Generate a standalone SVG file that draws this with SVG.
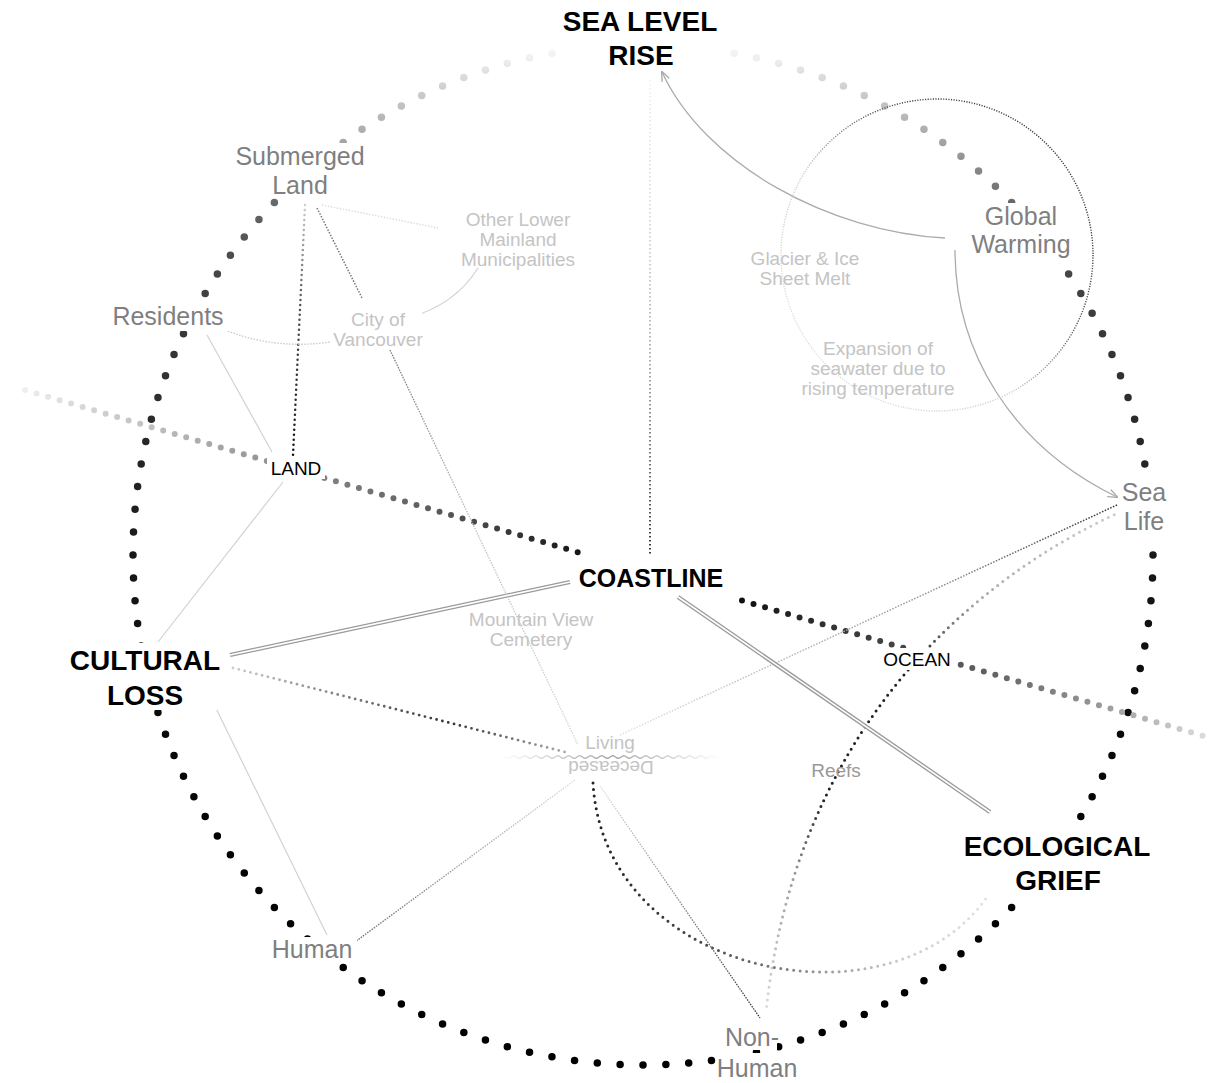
<svg xmlns="http://www.w3.org/2000/svg" width="1213" height="1083" viewBox="0 0 1213 1083">
<style>
text{font-family:"Liberation Sans",Arial,Helvetica,sans-serif;text-anchor:middle}
.big{font-size:28px;font-weight:bold;fill:#000}
.coast{font-size:25px;font-weight:bold;fill:#000}
.mid{font-size:25px;fill:#7f7f7f}
.light{font-size:19px;fill:#c4c4c4}
.tag{font-size:19px;fill:#000}
.reef{font-size:19px;fill:#999}
.bg{fill:#fff}
.solid{fill:none;stroke:#d2d2d2;stroke-width:1.2}
.dbl-o{fill:none;stroke:#999;stroke-width:4.2}
.dbl-i{fill:none;stroke:#fff;stroke-width:1.6}
.arrow{fill:none;stroke:#ababab;stroke-width:1.3}
</style>
<defs>
<marker id="arr" viewBox="0 0 10 10" refX="9" refY="5" markerWidth="10" markerHeight="10" markerUnits="userSpaceOnUse" orient="auto">
<path d="M0,1 L10,5 L0,9" fill="none" stroke="#aaa" stroke-width="1.3"/>
</marker>
<linearGradient id="ringGrad" gradientUnits="userSpaceOnUse" x1="0" y1="45" x2="0" y2="1065">
<stop offset="0" stop-color="#f8f8f8"/>
<stop offset="0.015" stop-color="#eeeeee"/>
<stop offset="0.029" stop-color="#dddddd"/>
<stop offset="0.046" stop-color="#cccccc"/>
<stop offset="0.067" stop-color="#bbbbbb"/>
<stop offset="0.091" stop-color="#a8a8a8"/>
<stop offset="0.152" stop-color="#6a6a6a"/>
<stop offset="0.21" stop-color="#4a4a4a"/>
<stop offset="0.28" stop-color="#383838"/>
<stop offset="0.40" stop-color="#262626"/>
<stop offset="0.54" stop-color="#141414"/>
<stop offset="0.74" stop-color="#050505"/>
<stop offset="1" stop-color="#000"/>
</linearGradient>
<linearGradient id="diagGrad" gradientUnits="userSpaceOnUse" x1="25" y1="0" x2="1213" y2="0">
<stop offset="0" stop-color="#eeeeee"/>
<stop offset="0.063" stop-color="#d0d0d0"/>
<stop offset="0.105" stop-color="#c0c0c0"/>
<stop offset="0.19" stop-color="#999"/>
<stop offset="0.274" stop-color="#7a7a7a"/>
<stop offset="0.358" stop-color="#555"/>
<stop offset="0.433" stop-color="#2a2a2a"/>
<stop offset="0.469" stop-color="#151515"/>
<stop offset="0.604" stop-color="#111"/>
<stop offset="0.678" stop-color="#333"/>
<stop offset="0.753" stop-color="#4a4a4a"/>
<stop offset="0.821" stop-color="#666"/>
<stop offset="0.905" stop-color="#999"/>
<stop offset="1" stop-color="#e0e0e0"/>
</linearGradient>
<linearGradient id="slrGrad" gradientUnits="userSpaceOnUse" x1="0" y1="80" x2="0" y2="556">
<stop offset="0" stop-color="#f0f0f0"/>
<stop offset="0.25" stop-color="#dddddd"/>
<stop offset="0.57" stop-color="#aaaaaa"/>
<stop offset="0.84" stop-color="#555"/>
<stop offset="1" stop-color="#222"/>
</linearGradient>
<linearGradient id="gwGrad" gradientUnits="userSpaceOnUse" x1="1060" y1="130" x2="800" y2="380">
<stop offset="0" stop-color="#333"/>
<stop offset="0.35" stop-color="#555"/>
<stop offset="0.6" stop-color="#cccccc"/>
<stop offset="1" stop-color="#e2e2e2"/>
</linearGradient>
<linearGradient id="seaLivGrad" gradientUnits="userSpaceOnUse" x1="1117" y1="0" x2="620" y2="0">
<stop offset="0" stop-color="#333"/>
<stop offset="0.4" stop-color="#999"/>
<stop offset="1" stop-color="#e2e2e2"/>
</linearGradient>
<linearGradient id="reefGrad" gradientUnits="userSpaceOnUse" x1="0" y1="512" x2="0" y2="1012">
<stop offset="0" stop-color="#cccccc"/>
<stop offset="0.18" stop-color="#aaaaaa"/>
<stop offset="0.3" stop-color="#222"/>
<stop offset="0.58" stop-color="#222"/>
<stop offset="0.72" stop-color="#999"/>
<stop offset="1" stop-color="#dddddd"/>
</linearGradient>
<linearGradient id="arcGrad" gradientUnits="userSpaceOnUse" x1="593" y1="0" x2="1003" y2="0">
<stop offset="0" stop-color="#222"/>
<stop offset="0.26" stop-color="#444"/>
<stop offset="0.5" stop-color="#888"/>
<stop offset="0.75" stop-color="#cccccc"/>
<stop offset="1" stop-color="#e6e6e6"/>
</linearGradient>
<linearGradient id="decNonGrad" gradientUnits="userSpaceOnUse" x1="0" y1="786" x2="0" y2="1018">
<stop offset="0" stop-color="#dddddd"/>
<stop offset="1" stop-color="#333"/>
</linearGradient>
<linearGradient id="decHumGrad" gradientUnits="userSpaceOnUse" x1="575" y1="0" x2="355" y2="0">
<stop offset="0" stop-color="#dddddd"/>
<stop offset="1" stop-color="#666"/>
</linearGradient>
<linearGradient id="culLivGrad" gradientUnits="userSpaceOnUse" x1="233" y1="0" x2="565" y2="0">
<stop offset="0" stop-color="#cccccc"/>
<stop offset="0.65" stop-color="#333"/>
<stop offset="1" stop-color="#aaaaaa"/>
</linearGradient>
<linearGradient id="subLandGrad" gradientUnits="userSpaceOnUse" x1="0" y1="205" x2="0" y2="455">
<stop offset="0" stop-color="#cccccc"/>
<stop offset="0.4" stop-color="#555"/>
<stop offset="1" stop-color="#111"/>
</linearGradient>
<linearGradient id="vanGrad" gradientUnits="userSpaceOnUse" x1="0" y1="350" x2="0" y2="745">
<stop offset="0" stop-color="#777"/>
<stop offset="0.4" stop-color="#bbbbbb"/>
<stop offset="1" stop-color="#d8d8d8"/>
</linearGradient>
<linearGradient id="waveGrad" gradientUnits="userSpaceOnUse" x1="500" y1="0" x2="722" y2="0">
<stop offset="0" stop-color="#fff"/>
<stop offset="0.27" stop-color="#cccccc"/>
<stop offset="0.5" stop-color="#a5a5a5"/>
<stop offset="0.73" stop-color="#cccccc"/>
<stop offset="1" stop-color="#fff"/>
</linearGradient>
</defs>
<rect width="1213" height="1083" fill="#fff"/>

<g id="ring">
<circle cx="643" cy="555" r="510" fill="none" stroke="url(#ringGrad)" stroke-width="7.5" stroke-linecap="round" stroke-dasharray="0 1" pathLength="140"/>
</g>

<g id="land-ocean-axis" fill="none" stroke="url(#diagGrad)" stroke-width="6" stroke-linecap="round" stroke-dasharray="0 12">
<line x1="25" y1="390" x2="582" y2="553.5"/>
<line x1="742" y1="600.5" x2="1213" y2="738.7"/>
</g>

<g id="connectors">
<line x1="650" y1="80" x2="650" y2="556" stroke="url(#slrGrad)" stroke-width="1.8" stroke-dasharray="1.5 2.5"/>
<path class="arrow" d="M945 238 C830 232 705 165 662 72" marker-end="url(#arr)"/>
<path class="arrow" d="M955 250 C955 350 1010 445 1117 497" marker-end="url(#arr)"/>
<circle cx="937" cy="255" r="156" fill="none" stroke="url(#gwGrad)" stroke-width="1.4" stroke-dasharray="1.2 1.4"/>
<line x1="1117" y1="505" x2="620" y2="735" stroke="url(#seaLivGrad)" stroke-width="1.5" stroke-dasharray="1.5 1.5"/>
<path d="M1120 512 C960 585 795 740 766 1012" fill="none" stroke="url(#reefGrad)" stroke-width="3" stroke-linecap="round" stroke-dasharray="0 6.5"/>
<path d="M593 783 C605 990 930 1040 1003 868" fill="none" stroke="url(#arcGrad)" stroke-width="3" stroke-linecap="round" stroke-dasharray="0 6.5"/>
<line x1="600" y1="786" x2="760" y2="1018" stroke="url(#decNonGrad)" stroke-width="1.3" stroke-dasharray="1.5 1.2"/>
<line x1="575" y1="780" x2="355" y2="942" stroke="url(#decHumGrad)" stroke-width="1.3" stroke-dasharray="1.5 1.2"/>
<line class="solid" x1="207" y1="335" x2="272" y2="452"/>
<line class="solid" x1="283" y1="482" x2="158" y2="642" stroke="#dddddd"/>
<line class="solid" x1="207" y1="690" x2="327" y2="935"/>
<line x1="233" y1="668" x2="565" y2="752" stroke="url(#culLivGrad)" stroke-width="2.8" stroke-linecap="round" stroke-dasharray="0 6"/>
<line class="dbl-o" x1="570" y1="582" x2="230" y2="655"/>
<line class="dbl-i" x1="570" y1="582" x2="230" y2="655"/>
<line class="dbl-o" x1="678" y1="597" x2="990" y2="812"/>
<line class="dbl-i" x1="678" y1="597" x2="990" y2="812"/>
<line x1="305" y1="205" x2="293" y2="455" stroke="url(#subLandGrad)" stroke-width="2.5" stroke-linecap="round" stroke-dasharray="0 5"/>
<line x1="317" y1="208" x2="362" y2="298" stroke="#777" stroke-width="1.5" stroke-dasharray="1.5 1.5"/>
<line x1="390" y1="350" x2="578" y2="745" stroke="url(#vanGrad)" stroke-width="1.3" stroke-dasharray="1.5 1.2"/>
<line x1="322" y1="205" x2="438" y2="228" stroke="#dddddd" stroke-width="1.4" stroke-dasharray="1.5 1.5"/>
<path d="M225 330 Q275 350 330 342" fill="none" stroke="#cccccc" stroke-width="1.4" stroke-dasharray="1.5 1.5"/>
<path class="solid" d="M408 318 Q455 305 478 268" stroke="#dddddd"/>
<path d="M500 757 q2.75 -2.6 5.5 0 t5.5 0 t5.5 0 t5.5 0 t5.5 0 t5.5 0 t5.5 0 t5.5 0 t5.5 0 t5.5 0 t5.5 0 t5.5 0 t5.5 0 t5.5 0 t5.5 0 t5.5 0 t5.5 0 t5.5 0 t5.5 0 t5.5 0 t5.5 0 t5.5 0 t5.5 0 t5.5 0 t5.5 0 t5.5 0 t5.5 0 t5.5 0 t5.5 0 t5.5 0 t5.5 0 t5.5 0 t5.5 0 t5.5 0 t5.5 0 t5.5 0 t5.5 0 t5.5 0 t5.5 0 t5.5 0" fill="none" stroke="url(#waveGrad)" stroke-width="1.3"/>
</g>

<g id="sea-level-rise">
<rect class="bg" x="558" y="6" width="164" height="64"/>
<text class="big" x="640" y="31">SEA LEVEL</text>
<text class="big" x="641" y="65">RISE</text>
</g>
<g id="coastline">
<rect class="bg" x="574" y="565" width="154" height="27"/>
<text class="coast" x="651" y="587">COASTLINE</text>
</g>
<g id="cultural-loss">
<rect class="bg" x="62" y="643" width="165" height="67"/>
<text class="big" x="145" y="670">CULTURAL</text>
<text class="big" x="145" y="705">LOSS</text>
</g>
<g id="ecological-grief">
<rect class="bg" x="957" y="828" width="200" height="67"/>
<text class="big" x="1057" y="856">ECOLOGICAL</text>
<text class="big" x="1058" y="890">GRIEF</text>
</g>
<g id="land">
<rect class="bg" x="267" y="457" width="58" height="22"/>
<text class="tag" x="296" y="475">LAND</text>
</g>
<g id="ocean">
<rect class="bg" x="880" y="648" width="75" height="22"/>
<text class="tag" x="917" y="666">OCEAN</text>
</g>
<g id="submerged-land">
<rect class="bg" x="230" y="143" width="140" height="29"/>
<rect class="bg" x="268" y="172" width="64" height="25"/>
<text class="mid" x="300" y="165">Submerged</text>
<text class="mid" x="300" y="194">Land</text>
</g>
<g id="residents">
<rect class="bg" x="108" y="302" width="121" height="29"/>
<text class="mid" x="168" y="325">Residents</text>
</g>
<g id="global-warming">
<rect class="bg" x="968" y="203" width="108" height="57"/>
<text class="mid" x="1021" y="225">Global</text>
<text class="mid" x="1021" y="253">Warming</text>
</g>
<g id="sea-life">
<rect class="bg" x="1118" y="480" width="52" height="57"/>
<text class="mid" x="1144" y="501">Sea</text>
<text class="mid" x="1144" y="530">Life</text>
</g>
<g id="human">
<rect class="bg" x="268" y="937" width="89" height="23"/>
<text class="mid" x="312" y="958">Human</text>
</g>
<g id="non-human">
<rect class="bg" x="728" y="1027" width="49" height="23"/>
<rect class="bg" x="716" y="1053" width="84" height="30"/>
<text class="mid" x="752" y="1046">Non-</text>
<text class="mid" x="757" y="1077">Human</text>
</g>
<g id="other-lower-mainland">
<text class="light" x="518" y="226">Other Lower</text>
<text class="light" x="518" y="246">Mainland</text>
<text class="light" x="518" y="266">Municipalities</text>
</g>
<g id="city-of-vancouver">
<rect class="bg" x="334" y="310" width="88" height="40"/>
<text class="light" x="378" y="326">City of</text>
<text class="light" x="378" y="346">Vancouver</text>
</g>
<g id="glacier-melt">
<text class="light" x="805" y="265">Glacier &amp; Ice</text>
<text class="light" x="805" y="285">Sheet Melt</text>
</g>
<g id="expansion-seawater">
<text class="light" x="878" y="355">Expansion of</text>
<text class="light" x="878" y="375">seawater due to</text>
<text class="light" x="878" y="395">rising temperature</text>
</g>
<g id="mountain-view-cemetery">
<text class="light" x="531" y="626">Mountain View</text>
<text class="light" x="531" y="646">Cemetery</text>
</g>
<g id="living-deceased">
<text class="light" x="610" y="749">Living</text>
<text class="light" x="611" y="775" transform="rotate(180 611 768)">Deceased</text>
</g>
<g id="reefs">
<text class="reef" x="836" y="777">Reefs</text>
</g>
</svg>
